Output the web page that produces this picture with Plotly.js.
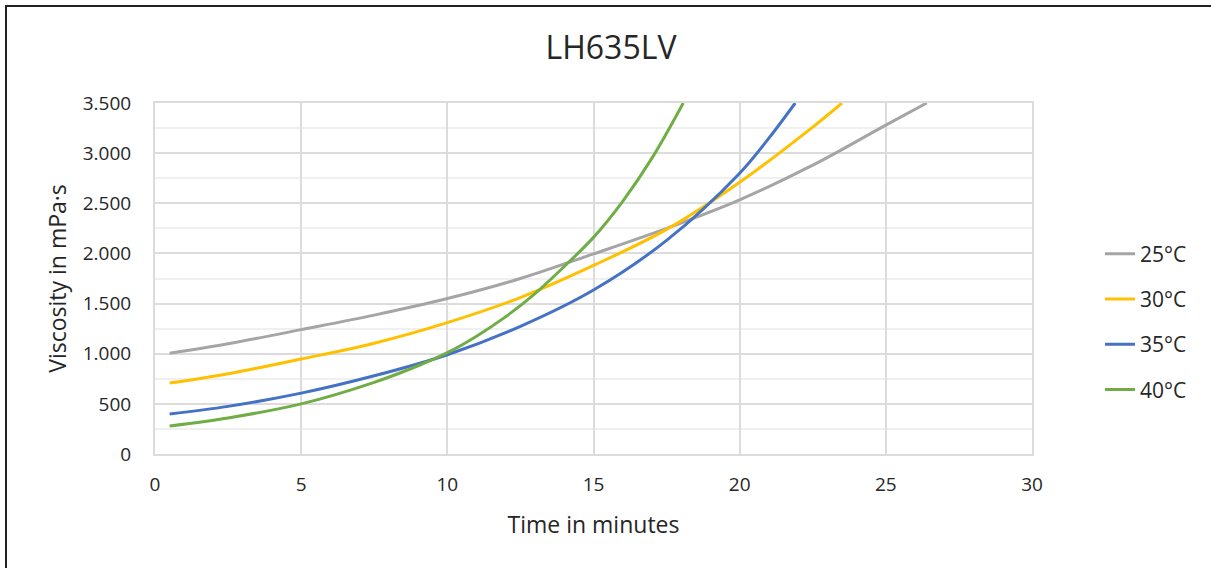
<!DOCTYPE html>
<html>
<head>
<meta charset="utf-8">
<script src="https://cdn.plot.ly/plotly-3.0.1.min.js"></script>
<style>
  html, body { margin: 0; padding: 0; background: #fff; }
  #frame { position: absolute; left: 5px; top: 5px; width: 1206px; height: 563px;
           border-left: 2px solid #222; border-top: 2px solid #222; box-sizing: border-box; pointer-events: none; z-index: 5; }
  #chart { width: 1211px; height: 568px; }
</style>
</head>
<body>
<div id="frame"></div>
<div id="chart"></div>
<script>
const seriesNames = ["25°C", "30°C", "35°C", "40°C"];
const seriesColors = ["#a5a5a5", "#ffc000", "#4472c4", "#70ad47"];

const t25 = [0.5, 2.5, 5, 7.5, 10, 12.5, 15, 17.5, 20, 22.5, 25, 26.4];
const v25 = [1005, 1100, 1240, 1385, 1550, 1750, 1995, 2250, 2535, 2880, 3280, 3500];

const t30 = [0.5, 2.5, 5, 7.5, 10, 12.5, 15, 17.5, 20, 22.5, 23.5];
const v30 = [707, 800, 947, 1105, 1310, 1560, 1880, 2240, 2710, 3260, 3500];

const t35 = [0.5, 2.5, 5, 7.5, 10, 12.5, 15, 17.5, 20, 21, 21.9];
const v35 = [400, 475, 607, 780, 990, 1273, 1635, 2130, 2800, 3150, 3500];

const t40 = [0.5, 2.5, 5, 7.5, 9, 10, 11, 12, 13, 14, 15, 16, 17, 18.07];
const v40 = [280, 360, 500, 715, 880, 1010, 1175, 1370, 1600, 1870, 2160, 2520, 2950, 3500];

const xs = [t25, t30, t35, t40];
const ys = [v25, v30, v35, v40];

const FONT = '"Open Sans", "Noto Sans", sans-serif';
const TXT = '#262626';

const traces = seriesNames.map((name, i) => ({
  type: 'scatter',
  mode: 'lines',
  name: name,
  x: xs[i],
  y: ys[i],
  legendgroup: 'g' + i,
  line: { color: seriesColors[i], width: 3, shape: 'spline', smoothing: 1 },
  hoverinfo: 'x+y+name'
}));

const layout = {
  width: 1211,
  height: 568,
  paper_bgcolor: '#ffffff',
  plot_bgcolor: '#ffffff',
  separators: ',.',
  margin: { l: 155, r: 179, t: 103, b: 114 },
  font: { family: FONT, color: TXT, size: 19 },
  title: {
    text: 'LH635LV',
    font: { family: FONT, size: 32, color: TXT },
    x: 611 / 1211, xanchor: 'center', xref: 'container',
    y: 1 - 48 / 568, yanchor: 'middle', yref: 'container'
  },
  xaxis: {
    range: [0, 30],
    dtick: 5,
    tick0: 0,
    showgrid: true,
    gridcolor: '#dcdcdc',
    gridwidth: 2,
    zeroline: false,
    showline: true,
    linecolor: '#dcdcdc',
    linewidth: 2,
    mirror: true,
    ticks: '',
    ticklabelstandoff: 12,
    tickfont: { family: FONT, size: 19, color: TXT },
    title: { text: 'Time in minutes', standoff: 21, font: { family: FONT, size: 23, color: TXT } }
  },
  yaxis: {
    range: [0, 3500],
    dtick: 500,
    tick0: 0,
    tickformat: ',d',
    showgrid: true,
    gridcolor: '#dcdcdc',
    gridwidth: 2,
    minor: { dtick: 250, showgrid: true, gridcolor: '#f0f0f0', gridwidth: 2, ticks: '' },
    zeroline: false,
    showline: true,
    linecolor: '#dcdcdc',
    linewidth: 2,
    mirror: true,
    ticks: '',
    ticklabelstandoff: 18,
    tickfont: { family: FONT, size: 19, color: TXT },
    title: { text: 'Viscosity in mPa·s', standoff: 10, font: { family: FONT, size: 23, color: TXT } }
  },
  showlegend: true,
  legend: {
    x: (1100 - 155) / 877, xanchor: 'left',
    y: 0.376, yanchor: 'middle',
    font: { family: FONT, size: 21, color: TXT },
    tracegroupgap: 15,
    bgcolor: 'rgba(0,0,0,0)'
  }
};

Plotly.newPlot('chart', traces, layout, { displayModeBar: false, staticPlot: true });
</script>
</body>
</html>
